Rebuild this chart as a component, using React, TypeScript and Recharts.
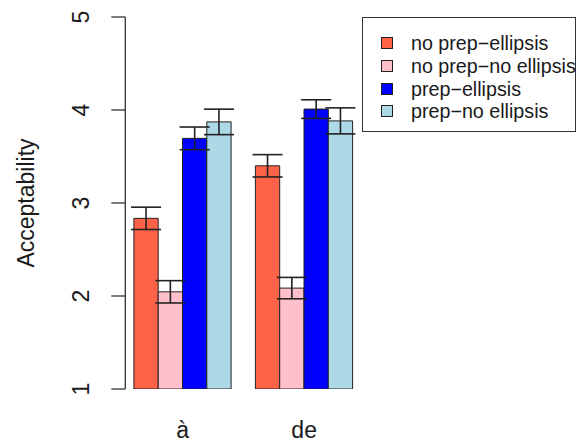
import React from 'react';
import { BarChart, Bar, XAxis, YAxis, ErrorBar, Legend } from 'recharts';

const categories = ['à', 'de'];
const seriesNames = ['no prep\u2212ellipsis', 'no prep\u2212no ellipsis', 'prep\u2212ellipsis', 'prep\u2212no ellipsis'];
const seriesColors = ['#FF6347', '#FFC0CB', '#0000FF', '#ADD8E6'];

const noPrepEllipsis = [2.835, 3.4];
const noPrepEllipsisSe = [0.12, 0.12];
const noPrepNoEllipsis = [2.045, 2.085];
const noPrepNoEllipsisSe = [0.12, 0.115];
const prepEllipsis = [3.695, 4.01];
const prepEllipsisSe = [0.122, 0.1];
const prepNoEllipsis = [3.872, 3.883];
const prepNoEllipsisSe = [0.137, 0.14];

const yTicks = [1, 2, 3, 4, 5];

const keys = ['s0', 's1', 's2', 's3'];
const values = [noPrepEllipsis, noPrepNoEllipsis, prepEllipsis, prepNoEllipsis];
const errors = [noPrepEllipsisSe, noPrepNoEllipsisSe, prepEllipsisSe, prepNoEllipsisSe];

const data = categories.map((name, i) => {
  const row: Record<string, any> = { name };
  keys.forEach((k, j) => {
    row[k] = values[j][i];
    row[k + 'se'] = errors[j][i];
  });
  return row;
});

const FONT = '"Liberation Sans", Arial, Helvetica, sans-serif';
const INK = '#1a1a1a';

const YTick = (props: any) => {
  const { x, y, payload } = props;
  const tx = x - 22;
  return (
    <text x={tx} y={y} transform={`rotate(-90, ${tx}, ${y})`} textAnchor="middle"
      fontFamily={FONT} fontSize={23} fill={INK}>
      {payload.value}
    </text>
  );
};

const XTick = (props: any) => {
  const { x, y, payload } = props;
  return (
    <text x={x} y={y + 47} textAnchor="middle" fontFamily={FONT} fontSize={23} fill={INK}>
      {payload.value}
    </text>
  );
};

const YLabel = (props: any) => {
  const { viewBox } = props;
  const lx = 34;
  const ly = viewBox.y + viewBox.height / 2;
  return (
    <text x={lx} y={ly} transform={`rotate(-90, ${lx}, ${ly})`} textAnchor="middle"
      fontFamily={FONT} fontSize={23} fill={INK}>
      Acceptability
    </text>
  );
};

const rowCenters = [25, 48, 70.5, 92.5];

const LegendBox = (props: any) => {
  const { payload } = props;
  return (
    <div style={{ position: 'relative', width: 214, height: 115, border: '1px solid #333', boxSizing: 'border-box', fontFamily: FONT }}>
      {(payload || []).map((entry: any, i: number) => (
        <React.Fragment key={entry.value}>
          <div style={{
            position: 'absolute', left: 18, top: rowCenters[i] - 6, width: 12, height: 12,
            background: entry.color, border: '1px solid #222', boxSizing: 'border-box',
          }} />
          <div style={{
            position: 'absolute', left: 48, top: rowCenters[i] - 12, height: 24, lineHeight: '24px',
            fontSize: 19.7, color: INK, whiteSpace: 'nowrap',
          }}>
            {entry.value}
          </div>
        </React.Fragment>
      ))}
    </div>
  );
};

export default function App() {
  return (
    <div style={{ position: 'absolute', left: 0, top: 0, width: 583, height: 443, background: '#fff' }}>
      <BarChart width={583} height={443} data={data} barGap={0} barSize={24.3}
        margin={{ top: 17, right: 218.1, bottom: 0, left: 0 }}>
        <XAxis dataKey="name" axisLine={false} tickLine={false} tickSize={0} height={54}
          padding={{ left: -3.4, right: 0 }} tick={<XTick />} interval={0} />
        <YAxis type="number" domain={[1, 5]} ticks={yTicks} width={125.3} tickSize={14} tickMargin={0}
          axisLine={{ stroke: '#333', strokeWidth: 1.3 }} tickLine={{ stroke: '#333', strokeWidth: 1.3 }}
          tick={<YTick />} label={<YLabel />} allowDataOverflow />
        <Legend layout="vertical" align="center" verticalAlign="middle" content={<LegendBox />}
          wrapperStyle={{ left: 362, top: 17, width: 214, height: 115 }} />
        {keys.map((k, j) => (
          <Bar key={k} dataKey={k} name={seriesNames[j]} fill={seriesColors[j]} stroke="#222" strokeWidth={1}
            isAnimationActive={false}>
            <ErrorBar dataKey={k + 'se'} width={15} stroke="#222" strokeWidth={1.6} direction="y" />
          </Bar>
        ))}
      </BarChart>
    </div>
  );
}
